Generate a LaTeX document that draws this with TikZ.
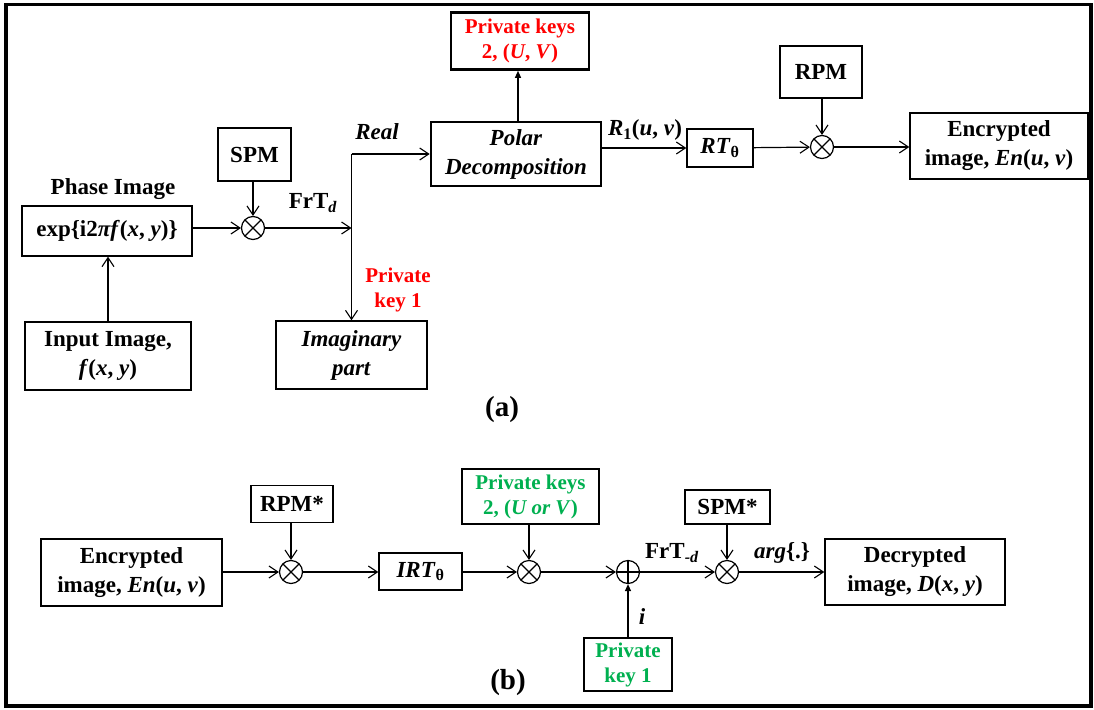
\documentclass[tikz,border=0pt]{standalone}
\usepackage{fontspec}
\setmainfont{Liberation Serif}
\usetikzlibrary{arrows.meta,calc}
\definecolor{kgreen}{RGB}{0,176,80}
\definecolor{kred}{RGB}{255,0,0}
\begin{document}
\begin{tikzpicture}[x=1pt,y=-1pt,
  box/.style={draw, line width=1.4pt, inner sep=0pt, align=center, font=\fontsize{23}{29}\selectfont\bfseries},
  tbox/.style={box, line width=2.6pt},
  lab/.style={inner sep=0pt, align=center, font=\fontsize{23}{29}\selectfont\bfseries},
  klab/.style={inner sep=0pt, align=center, font=\fontsize{21}{25}\selectfont\bfseries},
  big/.style={inner sep=0pt, font=\fontsize{29}{32}\selectfont\bfseries},
  mult/.style={circle, draw, line width=1.2pt, minimum size=23pt, inner sep=0pt,
    path picture={\draw[line width=1.2pt] (path picture bounding box.north west) -- (path picture bounding box.south east)
      (path picture bounding box.north east) -- (path picture bounding box.south west);}},
  plus/.style={circle, draw, line width=1.2pt, minimum size=23pt, inner sep=0pt,
    path picture={\draw[line width=1.2pt] (path picture bounding box.north) -- (path picture bounding box.south)
      (path picture bounding box.west) -- (path picture bounding box.east);}},
  arr/.style={line width=1.2pt, -{Straight Barb[length=9pt,width=12pt,line width=1.1pt]}},
  farr/.style={line width=1.2pt, -{Triangle[length=7pt,width=6pt]}},
  ln/.style={line width=1.2pt}
]
\useasboundingbox (0,0) rectangle (1094,709);
\draw[line width=3.5pt] (6,4.5) rectangle (1091,706);

% ---------- (a) ----------
\node[tbox, minimum width=138, minimum height=57, text=kred, font=\fontsize{21}{25}\selectfont\bfseries] (pka) at (520,41) {Private keys\\2, (\textit{U}, \textit{V})};
\node[tbox, minimum width=170, minimum height=64] (polar) at (516,154) {\textit{Polar}\\\textit{Decomposition}};
\node[box, minimum width=66, minimum height=38] (rt) at (720,148) {\textit{RT}\textsubscript{θ}};
\node[box, minimum width=82, minimum height=52] (rpm) at (821,72) {RPM};
\node[mult] (m3) at (822,147) {};
\node[box, minimum width=178, minimum height=66] (enc) at (999,146) {Encrypted\\image, \textit{En}(\textit{u}, \textit{v})};

\node[box, minimum width=73, minimum height=53] (spm) at (254.5,154.5) {SPM};
\node[mult] (m1) at (253,228) {};
\node[box, minimum width=170, minimum height=50] (exp) at (107,231) {exp\{i2\textit{πf}(\textit{x}, \textit{y})\}};
\node[lab] (phl) at (113,189) {Phase Image};
\node[box, minimum width=166, minimum height=68] (inp) at (108,356) {Input Image,\\\textit{f}(\textit{x}, \textit{y})};
\node[box, minimum width=151, minimum height=68] (imag) at (351.5,355) {\textit{Imaginary}\\\textit{part}};

\node[lab] (frtl) at (313,203) {FrT\textsubscript{\textit{d}}};
\node[lab] (real) at (377,132) {\textit{Real}};
\node[lab] (r1l) at (645,130) {\textit{R}\textsubscript{1}(\textit{u}, \textit{v})};
\node[klab, text=kred] (pk1l) at (398,290) {Private\\key 1};
\node[big] (al) at (502,410) {(a)};

\coordinate (jn) at (imag.north |- polar.west);
\draw[arr] (inp.north) -- (inp.north |- exp.south);
\draw[arr] (exp.east |- m1) -- (m1);
\draw[arr] (m1 |- spm.south) -- (m1);
\draw[arr] (m1) -- (m1 -| jn);
\draw[arr] (jn) -- (polar.west);
\draw[arr] (jn) -- (imag.north);
\draw[farr] (polar.north -| 518,0) -- (pka.south -| 518,0);
\draw[arr] (polar.east |- rt) -- (rt);
\draw[arr] (rt) -- (m3);
\draw[arr] (m3 |- rpm.south) -- (m3);
\draw[arr] (m3) -- (enc.west |- m3);

% ---------- (b) ----------
\node[box, minimum width=181, minimum height=67] (encb) at (131.5,572.5) {Encrypted\\image, \textit{En}(\textit{u}, \textit{v})};
\node[box, minimum width=82, minimum height=37] (rpms) at (292,504) {RPM*};
\node[mult] (n1) at (291,572) {};
\node[box, minimum width=83, minimum height=37] (irt) at (420.5,571.5) {\textit{IRT}\textsubscript{θ}};
\node[tbox, minimum width=137, minimum height=55, text=kgreen, font=\fontsize{21}{25}\selectfont\bfseries] (pkb) at (530.5,496.5) {Private keys\\2, (\textit{U or V})};
\node[mult] (n2) at (529,572) {};
\node[plus] (p1) at (628,572) {};
\node[box, minimum width=85, minimum height=34] (spms) at (727.5,507) {SPM*};
\node[mult] (n3) at (727,572) {};
\node[box, minimum width=180, minimum height=66] (dec) at (915,572) {Decrypted\\image, \textit{D}(\textit{x}, \textit{y})};
\node[tbox, minimum width=88, minimum height=53, text=kgreen, font=\fontsize{21}{25}\selectfont\bfseries] (pk1b) at (628,664.5) {Private\\key 1};

\node[lab] (frtm) at (672,553) {FrT\textsubscript{\textit{-d}}};
\node[lab] (argl) at (782,553) {\textit{arg}\{.\}};
\node[lab] (il) at (642,617) {\textit{i}};
\node[big] (bl) at (508,683) {(b)};

\draw[arr] (encb.east |- n1) -- (n1);
\draw[arr] (n1 |- rpms.south) -- (n1);
\draw[arr] (n1) -- (irt.west |- n1);
\draw[arr] (irt.east |- n2) -- (n2);
\draw[arr] (n2 |- pkb.south) -- (n2);
\draw[arr] (n2) -- (p1);
\draw[farr] (pk1b.north) -- (p1.south);
\draw[arr] (p1) -- (n3);
\draw[arr] (n3 |- spms.south) -- (n3);
\draw[arr] (n3) -- (dec.west |- n3);
\end{tikzpicture}
\end{document}
